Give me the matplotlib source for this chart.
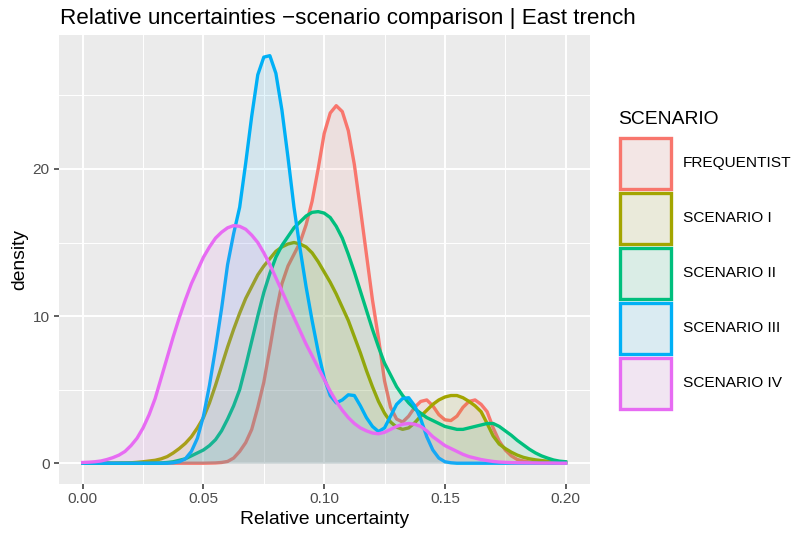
#!/usr/bin/env python3
"""
Density of relative uncertainties per scenario, East trench
"""

import matplotlib.pyplot as plt
from matplotlib.patches import Patch
from matplotlib.colors import to_rgb
import numpy as np

# relative uncertainty grid (step 0.0025) and density values
rel_unc = [0.0000, 0.0025, 0.0050, 0.0075, 0.0100, 0.0125, 0.0150, 0.0175, 0.0200, 0.0225,
           0.0250, 0.0275, 0.0300, 0.0325, 0.0350, 0.0375, 0.0400, 0.0425, 0.0450, 0.0475,
           0.0500, 0.0525, 0.0550, 0.0575, 0.0600, 0.0625, 0.0650, 0.0675, 0.0700, 0.0725,
           0.0750, 0.0775, 0.0800, 0.0825, 0.0850, 0.0875, 0.0900, 0.0925, 0.0950, 0.0975,
           0.1000, 0.1025, 0.1050, 0.1075, 0.1100, 0.1125, 0.1150, 0.1175, 0.1200, 0.1225,
           0.1250, 0.1275, 0.1300, 0.1325, 0.1350, 0.1375, 0.1400, 0.1425, 0.1450, 0.1475,
           0.1500, 0.1525, 0.1550, 0.1575, 0.1600, 0.1625, 0.1650, 0.1675, 0.1700, 0.1725,
           0.1750, 0.1775, 0.1800, 0.1825, 0.1850, 0.1875, 0.1900, 0.1925, 0.1950, 0.1975,
           0.2000]

frequentist = [0, 0, 0, 0, 0, 0, 0, 0, 0, 0,
               0, 0, 0, 0, 0, 0, 0, 0, 0, 0,
               0.0, 0.01, 0.02, 0.05, 0.12, 0.35, 0.8, 1.4, 2.3, 3.8,
               5.5, 7.8, 10.2, 12.2, 13.4, 14.2, 15.0, 16.2, 17.8, 20.0,
               22.4, 23.8, 24.3, 23.9, 22.6, 20.3, 17.3, 14.2, 11.1, 8.5,
               5.6, 3.8, 3.0, 2.8, 3.2, 3.8, 4.2, 4.3, 3.9, 3.3,
               2.95, 2.9, 3.2, 3.8, 4.2, 4.3, 4.0, 3.5, 2.4, 1.5,
               0.9, 0.5, 0.25, 0.15, 0.08, 0.05, 0.03, 0.02, 0.02, 0.01,
               0.01]

scenario_1 = [0, 0, 0, 0, 0, 0, 0.01, 0.02, 0.03, 0.06,
              0.1, 0.15, 0.2, 0.3, 0.45, 0.7, 1.0, 1.35, 1.8, 2.4,
              3.1, 4.1, 5.3, 6.6, 7.9, 9.1, 10.2, 11.2, 12.0, 12.8,
              13.4, 13.9, 14.4, 14.7, 14.9, 15.0, 14.9, 14.7, 14.3, 13.7,
              13.0, 12.3, 11.5, 10.6, 9.7, 8.6, 7.5, 6.3, 5.2, 4.2,
              3.4, 2.8, 2.45, 2.3, 2.4, 2.75, 3.2, 3.6, 4.0, 4.3,
              4.5, 4.6, 4.6, 4.45, 4.2, 3.9, 3.5, 2.7, 1.85, 1.3,
              1.0, 0.75, 0.55, 0.4, 0.3, 0.23, 0.18, 0.14, 0.1, 0.07,
              0.05]

scenario_2 = [0, 0, 0, 0, 0, 0, 0, 0, 0, 0,
              0, 0, 0.01, 0.02, 0.05, 0.1, 0.2, 0.3, 0.5, 0.7,
              0.9, 1.2, 1.6, 2.2, 3.0, 3.9, 5.0, 6.6, 8.3, 10.0,
              11.6, 12.9, 14.0, 14.8, 15.4, 16.0, 16.4, 16.8, 17.05, 17.1,
              17.0, 16.7, 16.1, 15.3, 14.2, 13.0, 11.7, 10.4, 9.1, 7.9,
              6.8, 6.0, 5.2, 4.6, 4.1, 3.7, 3.4, 3.1, 2.9, 2.7,
              2.5, 2.4, 2.3, 2.3, 2.4, 2.5, 2.6, 2.7, 2.7, 2.5,
              2.2, 1.9, 1.55, 1.25, 0.95, 0.7, 0.5, 0.35, 0.22, 0.14,
              0.1]

scenario_3 = [0, 0, 0, 0, 0, 0, 0, 0, 0, 0,
              0, 0, 0, 0, 0, 0.03, 0.1, 0.3, 0.8, 1.7,
              3.2, 5.3, 7.8, 10.5, 13.5, 15.6, 17.4, 20.4, 23.6, 26.4,
              27.6, 27.7, 26.5, 24.0, 20.8, 17.4, 14.6, 12.0, 9.7, 7.6,
              5.8, 4.6, 4.1, 4.3, 4.65, 4.6, 3.9, 3.1, 2.5, 2.15,
              2.4, 3.2, 4.0, 4.4, 4.45, 3.9, 3.0, 1.8, 0.9, 0.35,
              0.1, 0.03, 0, 0, 0, 0, 0, 0, 0, 0,
              0, 0, 0, 0, 0, 0, 0, 0, 0, 0,
              0]

scenario_4 = [0.05, 0.07, 0.1, 0.15, 0.25, 0.38, 0.55, 0.8, 1.2, 1.7,
              2.4, 3.3, 4.4, 5.8, 7.2, 8.6, 9.9, 11.1, 12.2, 13.1,
              14.0, 14.7, 15.3, 15.7, 16.0, 16.15, 16.1, 15.9, 15.5, 15.0,
              14.3, 13.5, 12.6, 11.7, 10.8, 9.9, 9.0, 8.1, 7.3, 6.5,
              5.7, 4.9, 4.2, 3.6, 3.1, 2.7, 2.4, 2.2, 2.05, 2.0,
              2.1, 2.3, 2.5, 2.65, 2.7, 2.65, 2.5, 2.2, 1.8, 1.5,
              1.2, 1.0, 0.8, 0.6, 0.45, 0.35, 0.25, 0.18, 0.12, 0.08,
              0.06, 0.04, 0.03, 0.025, 0.02, 0.015, 0.01, 0.01, 0.01, 0.0,
              0.0]

scenarios = ['FREQUENTIST', 'SCENARIO I', 'SCENARIO II', 'SCENARIO III', 'SCENARIO IV']
densities = [frequentist, scenario_1, scenario_2, scenario_3, scenario_4]
colours = ['#F8766D', '#A3A500', '#00BF7D', '#00B0F6', '#E76BF3']

x_ticks = [0.00, 0.05, 0.10, 0.15, 0.20]
x_tick_labels = ['0.00', '0.05', '0.10', '0.15', '0.20']
y_ticks = [0, 10, 20]

plt.rcParams['font.family'] = ['Liberation Sans', 'DejaVu Sans']

fig = plt.figure(figsize=(7.96, 5.33), dpi=100)
ax = fig.add_axes([0.0736, 0.0927, 0.6673, 0.8411])
ax.set_facecolor('#EBEBEB')

x = np.array(rel_unc)
for name, dens, col in zip(scenarios, densities, colours):
    dens = np.array(dens)
    ax.fill_between(x, 0, dens, color=col, alpha=0.1, linewidth=0, zorder=2)
    ax.plot(x, dens, color=col, lw=2.4, zorder=2, solid_joinstyle='round')

ymax = max(max(d) for d in densities)
ax.set_xlim(-0.01, 0.21)
ax.set_ylim(-0.05 * ymax, 1.05 * ymax)

ax.set_xticks(x_ticks)
ax.set_xticklabels(x_tick_labels)
ax.set_yticks(y_ticks)
ax.set_xticks([0.025, 0.075, 0.125, 0.175], minor=True)
ax.set_yticks([5, 15, 25], minor=True)
ax.grid(which='major', color='white', lw=1.4)
ax.grid(which='minor', color='white', lw=0.7)
ax.set_axisbelow(True)
for s in ax.spines.values():
    s.set_visible(False)
ax.tick_params(which='major', length=3.5, width=1.1, color='#333333',
               labelsize=11.1, labelcolor='#4D4D4D', pad=2.8)
ax.tick_params(which='minor', length=0)

ax.set_xlabel('Relative uncertainty', fontsize=13.9, labelpad=3.5)
ax.set_ylabel('density', fontsize=13.9, labelpad=3.5)

fig.text(0.0754, 1 - 24 / 533, 'Relative uncertainties \u2212scenario comparison | East trench',
         fontsize=16.2, va='baseline', ha='left')

# legend: title as plain text, keys through fig.legend
fig.text(618 / 796, 1 - 119 / 533, 'SCENARIO', fontsize=13.9, va='center', ha='left')
key_bg = np.array(to_rgb('#F2F2F2'))
handles = []
for col in colours:
    blend = 0.9 * key_bg + 0.1 * np.array(to_rgb(col))
    handles.append(Patch(facecolor=blend, edgecolor=col, linewidth=2.4))
fs_px = 11.1 * 100 / 72
key_px = 51
# legend shrinks the handle height by a descent term, undo that
hh = (key_px / fs_px - 0.245) / 0.65
fig.legend(handles, scenarios, loc='upper left', bbox_to_anchor=(620 / 796, 1 - 138 / 533),
           frameon=False, fontsize=11.1, borderpad=0, borderaxespad=0,
           handlelength=key_px / fs_px, handleheight=hh,
           labelspacing=4 / fs_px, handletextpad=12 / fs_px)

plt.savefig('out.png', dpi=100)
plt.close('all')
